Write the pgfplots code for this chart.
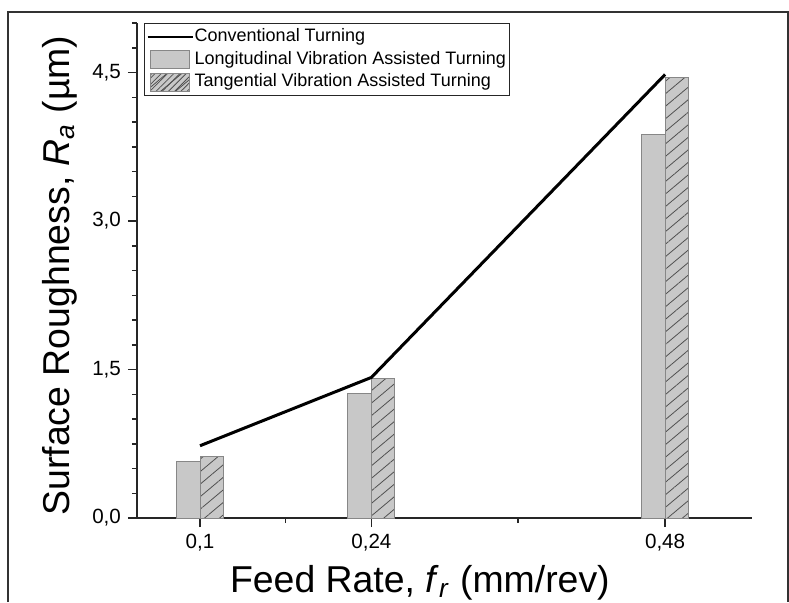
\documentclass[border=0pt]{standalone}
\usepackage{fontspec}
\setmainfont{Liberation Sans}
\usepackage{pgfplots}
\pgfplotsset{compat=1.18}
\usetikzlibrary{patterns.meta}

\definecolor{barfill}{RGB}{200,200,200}
\definecolor{baredge}{RGB}{135,135,135}
\definecolor{hatch}{RGB}{80,80,80}
\definecolor{framec}{RGB}{50,50,50}

\begin{document}
\begin{tikzpicture}
\useasboundingbox (0,0) rectangle (394.5pt,-301pt);
% outer frame (open at the bottom)
\draw[framec, line width=0.75pt] (4pt,-301pt) -- (4pt,-6pt) -- (394pt,-6pt) -- (394pt,-301pt);
\begin{axis}[
    at={(68.5pt,-259pt)}, anchor=south west,
    scale only axis, width=307.5pt, height=247.5pt,
    xmin=0.0485, xmax=0.551,
    ymin=0, ymax=5,
    axis lines=left,
    axis line style={-, line width=0.75pt, black!85},
    tick align=outside,
    major tick length=4.5pt, minor tick length=2.5pt,
    tick style={black!85, line width=0.75pt},
    xtick={0.1,0.24,0.48},
    xticklabels={{0,1},{0,24},{0,48}},
    minor xtick={0.17,0.36},
    ytick={0,1.5,3,4.5},
    yticklabels={{0,0},{1,5},{3,0},{4,5}},
    minor ytick={0.25,0.5,0.75,1,1.25,1.75,2,2.25,2.5,2.75,3.25,3.5,3.75,4,4.25,4.75,5},
    tick label style={font=\fontsize{10.3}{12}\selectfont},
    xlabel={Feed Rate, \textit{f}\textsubscript{\textit{r}} (mm/rev)},
    ylabel={Surface Roughness, \textit{R}\textsubscript{\textit{a}} (µm)},
    label style={font=\fontsize{18.7}{22}\selectfont},
    xlabel style={at={(axis description cs:0.46,-0.1495)}, anchor=base},
    ylabel style={at={(axis description cs:-0.1252,0.49)}, anchor=center},
    legend cell align=left,
    legend style={at={(0.0114,1)}, anchor=north west,
        draw=black!85, line width=0.5pt,
        font=\fontsize{9}{10}\selectfont,
        inner xsep=1pt, inner ysep=1pt, row sep=0pt,
        nodes={inner sep=0.6pt, text height=7.3pt, text depth=2.9pt}},
]

\addlegendimage{black, line width=1pt,
    legend image code/.code={\draw[black, line width=1pt] (0pt,0pt) -- (22.5pt,0pt);}}
\addlegendentry{Conventional Turning}

\addplot[ybar, bar width=11.75pt, bar shift=-5.875pt,
    fill=barfill, draw=baredge, line width=0.5pt,
    legend image code/.code={\draw[fill=barfill, draw=baredge, line width=0.5pt] (1.3pt,-4.5pt) rectangle (20.8pt,4.5pt);}]
    coordinates {(0.1,0.57) (0.24,1.26) (0.48,3.87)};
\addlegendentry{Longitudinal Vibration Assisted Turning}

\addplot[ybar, bar width=11.75pt, bar shift=5.875pt,
    fill=barfill, draw=baredge, line width=0.5pt,
    postaction={pattern={Lines[angle=40,distance=4.8pt,line width=0.4pt]}, pattern color=hatch},
    legend image code/.code={\draw[fill=barfill, draw=baredge, line width=0.5pt,
        postaction={pattern={Lines[angle=45,distance=2.2pt,line width=0.4pt]}, pattern color=hatch}]
        (1.3pt,-4.5pt) rectangle (20.8pt,4.5pt);}]
    coordinates {(0.1,0.62) (0.24,1.41) (0.48,4.45)};
\addlegendentry{Tangential Vibration Assisted Turning}

\addplot[black, line width=1.5pt, mark=none, sharp plot, forget plot]
    coordinates {(0.1,0.73) (0.24,1.42) (0.48,4.48)};

\end{axis}
\end{tikzpicture}
\end{document}
